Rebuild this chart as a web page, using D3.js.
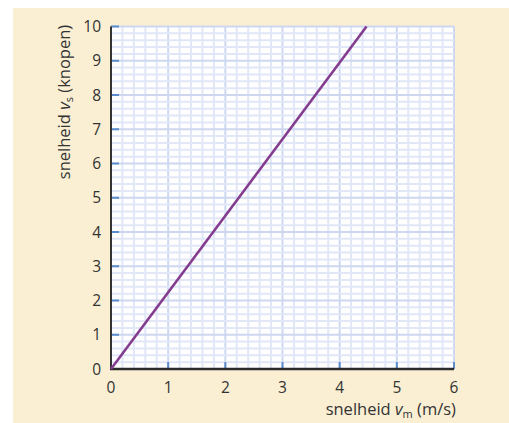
<!DOCTYPE html>
<html><head><meta charset="utf-8">
<script src="https://cdn.jsdelivr.net/npm/d3@7"></script>
<style>body{margin:0;background:#fff}svg{display:block}</style>
</head><body>
<script>
const xTicks = [0,1,2,3,4,5,6];
const yTicks = [0,1,2,3,4,5,6,7,8,9,10];
const lineX = [0, 4.47];
const lineY = [0, 10];

const W = 509, H = 423;
const svg = d3.select("body").append("svg").attr("width", W).attr("height", H);
svg.append("rect").attr("x",13).attr("y",8).attr("width",W-13).attr("height",H-8).attr("fill","#faefd3");

const x = d3.scaleLinear().domain([0,6]).range([111,454]);
const y = d3.scaleLinear().domain([0,10]).range([369,26.5]);
const font = "'Open Sans', sans-serif";
const txt = "#333";

svg.append("rect").attr("x",x(0)).attr("y",y(10)).attr("width",x(6)-x(0)).attr("height",y(0)-y(10)).attr("fill","#fff");

const g = svg.append("g");
const minorX = d3.range(0, 30.5).map(i => i/5);
const minorY = d3.range(0, 50.5).map(i => i/5);
g.selectAll(".mx").data(minorX).join("line")
  .attr("x1", d=>x(d)).attr("x2", d=>x(d)).attr("y1", y(0)).attr("y2", y(10))
  .attr("stroke", (d,i)=> i%5===0 ? "#cdd8f0" : "#e1e7f7").attr("stroke-width", 2);
g.selectAll(".my").data(minorY).join("line")
  .attr("y1", d=>y(d)).attr("y2", d=>y(d)).attr("x1", x(0)).attr("x2", x(6))
  .attr("stroke", (d,i)=> i%5===0 ? "#cdd8f0" : "#e1e7f7").attr("stroke-width", 2);

// blue inner ticks
svg.selectAll(".yt").data(yTicks.filter(d=>d>0)).join("line")
  .attr("x1", x(0)).attr("x2", x(0)+8).attr("y1", d=>y(d)).attr("y2", d=>y(d))
  .attr("stroke", "#5b8ccc").attr("stroke-width", 2);
svg.selectAll(".xt").data(xTicks.filter(d=>d>0)).join("line")
  .attr("x1", d=>x(d)).attr("x2", d=>x(d)).attr("y1", y(0)).attr("y2", y(0)-7)
  .attr("stroke", "#5b8ccc").attr("stroke-width", 2);

// axes
svg.append("line").attr("x1",x(0)).attr("x2",x(0)).attr("y1",y(10)).attr("y2",y(0)+1).attr("stroke","#333").attr("stroke-width",2);
svg.append("line").attr("x1",x(0)-1).attr("x2",x(6)).attr("y1",y(0)).attr("y2",y(0)).attr("stroke","#2b2b2b").attr("stroke-width",2.5);

// data line
const pts = lineX.map((v,i)=>[v, lineY[i]]);
svg.append("path").datum(pts)
  .attr("d", d3.line().x(d=>x(d[0])).y(d=>y(d[1])))
  .attr("stroke", "#843c8f").attr("stroke-width", 2.6).attr("fill","none");

// tick labels
svg.selectAll(".yl").data(yTicks).join("text")
  .attr("x", 101).attr("y", d=>y(d)).attr("dy","0.36em")
  .attr("text-anchor","end").attr("font-family",font).attr("font-size",15.5).attr("fill",txt)
  .text(d=>d);
svg.selectAll(".xl").data(xTicks).join("text")
  .attr("x", d=>x(d)).attr("y", 393)
  .attr("text-anchor","middle").attr("font-family",font).attr("font-size",15.5).attr("fill",txt)
  .text(d=>d);

// axis titles
const xt = svg.append("text").attr("x", 456).attr("y", 415).attr("text-anchor","end")
  .attr("font-family",font).attr("font-size",16.5).attr("fill",txt);
xt.append("tspan").text("snelheid ");
xt.append("tspan").attr("font-style","italic").text("v");
xt.append("tspan").attr("font-size",11).attr("dy",3).text("m");
xt.append("tspan").attr("dy",-3).text(" (m/s)");

const yt = svg.append("text").attr("transform","translate(70,102) rotate(-90)").attr("text-anchor","middle")
  .attr("font-family",font).attr("font-size",16.5).attr("fill",txt);
yt.append("tspan").text("snelheid ");
yt.append("tspan").attr("font-style","italic").text("v");
yt.append("tspan").attr("font-size",11).attr("dy",3).text("s");
yt.append("tspan").attr("dy",-3).text(" (knopen)");
</script>
</body></html>
